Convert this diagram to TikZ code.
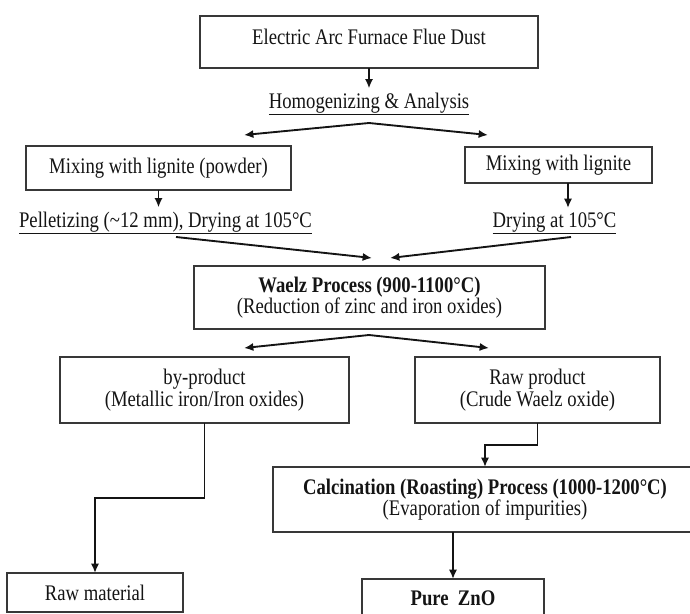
\documentclass[tikz,border=0pt]{standalone}
\usepackage{fontspec}
\setmainfont{Liberation Serif}[FakeStretch=0.84]
\usetikzlibrary{arrows.meta}
\definecolor{shenhui}{rgb}{0.22,0.22,0.22}
\definecolor{mo}{rgb}{0.08,0.08,0.08}
\tikzset{
	box/.style={draw=shenhui, line width=1.4pt, inner sep=0pt, outer sep=0pt, align=center, text=mo, font=\fontsize{19}{18.5}\selectfont},
	txt/.style={text=mo, font=\fontsize{19}{18.5}\selectfont},
	arr/.style={-{Latex[length=8pt, width=7pt]}, line width=1.6pt, color=mo},
}

\begin{document}
\begin{tikzpicture}[x=0.03cm, y=-0.03cm]
		\useasboundingbox (0,0) rectangle (690,614);
		% boxes and labels
		\node[box, minimum width=10.14cm, minimum height=1.56cm, text depth=0.3cm] (dust) at (369,42) {Electric Arc Furnace Flue Dust};
		\node[txt, anchor=base] (homog) at (369,108) {\underline{Homogenizing \& Analysis}};
		\node[box, minimum width=7.95cm, minimum height=1.32cm] (mixA) at (158.5,168) {Mixing with lignite (powder)};
		\node[box, minimum width=5.61cm, minimum height=1.08cm] (mixB) at (558.5,165) {Mixing with lignite};
		\node[txt, anchor=base] (pellet) at (165.5,227) {\underline{Pelletizing (\textasciitilde12 mm), Drying at 105°C}};
		\node[txt, anchor=base] (dryB) at (554.5,227) {\underline{Drying at 105°C}};
		\node[box, minimum width=10.53cm, minimum height=1.89cm] (waelz) at (369.5,297.5) {\textbf{Waelz Process (900-1100°C)}\\(Reduction of zinc and iron oxides)};
		\node[box, minimum width=8.67cm, minimum height=1.98cm] (byprod) at (204.5,390) {by-product\\(Metallic iron/Iron oxides)};
		\node[box, minimum width=7.35cm, minimum height=1.98cm] (rawprod) at (537.5,390) {Raw product\\(Crude Waelz oxide)};
		\node[box, minimum width=12.72cm, minimum height=1.95cm] (calc) at (485,499.5) {\textbf{Calcination (Roasting) Process (1000-1200°C)}\\(Evaporation of impurities)};
		\node[box, minimum width=5.28cm, minimum height=1.17cm] (rawmat) at (95,592.5) {Raw material};
		\node[box, minimum width=5.46cm, minimum height=1.14cm] (zno) at (453,598) {\textbf{Pure\ \ ZnO}};
		% split and merge points
		\coordinate (hsplit) at (369,123);
		\coordinate (mixAin) at (244,135);
		\coordinate (mixBin) at (488,135);
		\coordinate (pelout) at (176,237);
		\coordinate (dryout) at (571,237);
		\coordinate (wsplit) at (369,335);
		\coordinate (byin) at (244,348);
		\coordinate (rawin) at (489,348);
		% connectors
		\draw[arr] (dust) -- (homog);
		\draw[arr] (hsplit) -- (mixAin);
		\draw[arr] (hsplit) -- (mixBin);
		\draw[arr] (mixA.south) -- (mixA.south |- pellet.north);
		\draw[arr] ([xshift=0.285cm]mixB.south) -- ++(0,25);
		\draw[arr] (pelout) -- ([xshift=0.075cm, yshift=0.24cm]waelz.north);
		\draw[arr] (dryout) -- ([xshift=0.615cm, yshift=0.24cm]waelz.north);
		\draw[arr] (wsplit) -- (byin);
		\draw[arr] (wsplit) -- (rawin);
		\draw[arr] (byprod.south) -- ++(0,75) -| (rawmat.north);
		\draw[arr] (rawprod.south) -- ++(0,22) -| (calc.north);
		\draw[arr] (calc.south -| zno.north) -- (zno.north);
	\end{tikzpicture}
\end{document}
